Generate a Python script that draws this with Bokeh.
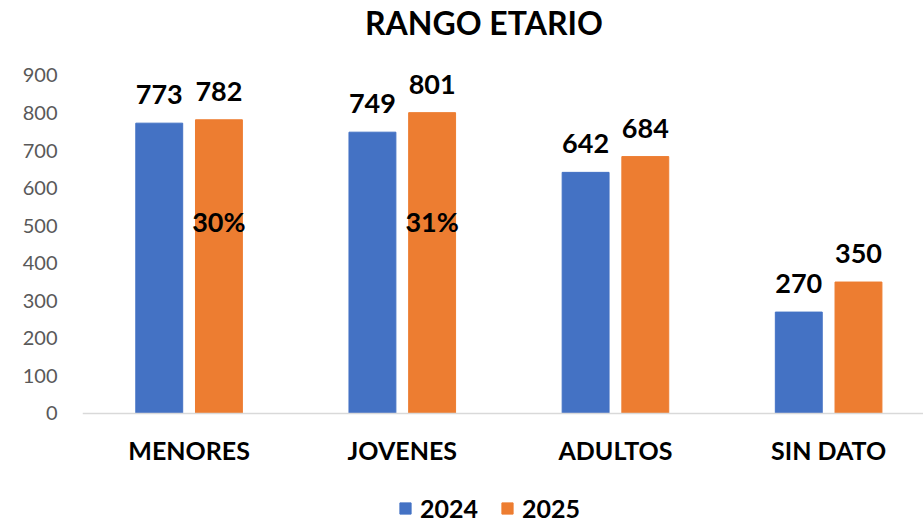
from bokeh.plotting import figure
from bokeh.models import Range1d, FixedTicker, Legend, LegendItem, ColumnDataSource, Span
from bokeh.core.properties import value
from bokeh.embed import file_html
from bokeh.resources import INLINE

categories = ["MENORES", "JOVENES", "ADULTOS", "SIN DATO"]
years = ["2024", "2025"]
values_2024 = [773, 749, 642, 270]
values_2025 = [782, 801, 684, 350]
pct_labels = ["30%", "31%", "", ""]
title_text = "RANGO ETARIO"
y_ticks = [0, 100, 200, 300, 400, 500, 600, 700, 800, 900]

BLUE = "#4472C4"
ORANGE = "#ED7D31"
FONT = "Lato"

pos = [i + 0.5 for i in range(len(categories))]
off = 0.14
bw = 0.22

p = figure(width=923, height=523, output_backend="svg", toolbar_location=None,
           x_range=Range1d(0, 3.945), y_range=Range1d(-292.9, 1099.6),
           min_border_left=82, min_border_right=0, min_border_top=0, min_border_bottom=0)
p.outline_line_color = None
p.grid.visible = False
p.xaxis.visible = False
p.background_fill_color = "white"

src = ColumnDataSource(dict(
    x1=[x - off for x in pos], x2=[x + off for x in pos],
    v1=values_2024, v2=values_2025,
    t1=[str(v) for v in values_2024], t2=[str(v) for v in values_2025],
    pct=pct_labels, pcty=[510] * len(categories),
))

r1 = p.vbar(x="x1", top="v1", width=bw, source=src, color=BLUE)
r2 = p.vbar(x="x2", top="v2", width=bw, source=src, color=ORANGE)

p.add_layout(Span(location=0, dimension="width", line_color="#D9D9D9", line_width=1.5))

common = dict(text_font=value(FONT), text_font_style="bold", text_font_size="27px",
              text_color="black", text_align="center", text_baseline="bottom", y_offset=-19)
p.text(x="x1", y="v1", text="t1", source=src, **common)
p.text(x="x2", y="v2", text="t2", source=src, **common)
p.text(x="x2", y="pcty", text="pct", source=src, text_font=value(FONT), text_font_style="bold",
       text_font_size="27px", text_color="black", text_align="center", text_baseline="middle")

p.text(x=pos, y=[-98] * len(pos), text=categories, text_font=value(FONT), text_font_style="bold",
       text_font_size="25px", text_color="black", text_align="center", text_baseline="middle")

p.text(x=[1.883], y=[1041], text=[title_text], text_font=value(FONT), text_font_style="bold",
       text_font_size="32px", text_color="black", text_align="center", text_baseline="middle")

p.yaxis.ticker = FixedTicker(ticks=y_ticks)
p.yaxis.axis_line_color = None
p.yaxis.major_tick_line_color = None
p.yaxis.minor_tick_line_color = None
p.yaxis.major_label_text_font = FONT
p.yaxis.major_label_text_font_size = "20px"
p.yaxis.major_label_text_color = "#595959"
p.yaxis.major_label_standoff = 19

legend = Legend(items=[LegendItem(label=years[0], renderers=[r1]),
                       LegendItem(label=years[1], renderers=[r2])],
                orientation="horizontal", location=(316, 0),
                label_text_font=FONT, label_text_font_style="bold", label_text_font_size="25px",
                label_text_color="black",
                glyph_width=14, glyph_height=14, spacing=22, label_standoff=8,
                border_line_color=None, background_fill_alpha=0, padding=0, margin=0)
p.add_layout(legend)

open("out.html", "w").write(file_html(p, INLINE))
